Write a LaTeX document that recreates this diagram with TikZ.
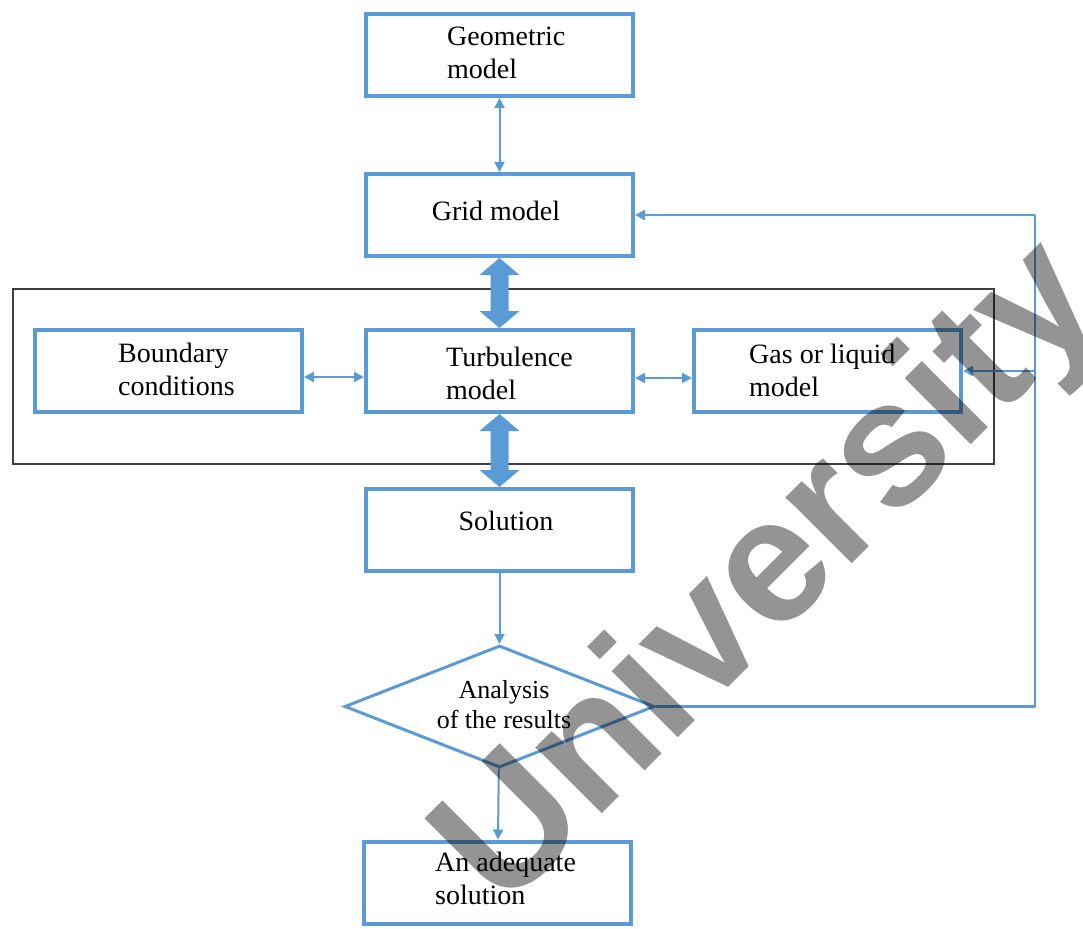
\documentclass[tikz,border=0pt]{standalone}
\usepackage{fontspec}
\setmainfont{Liberation Serif}
\newfontfamily\wmfont{Liberation Sans}
\usetikzlibrary{arrows.meta,shapes.geometric,calc}
\definecolor{blu}{HTML}{5B9BD5}
\definecolor{frm}{HTML}{3F3F3F}
\newcommand\dblblockarrow[2]{%
  \fill[blu] (#1) -- ++(20,17) -- ++(-11,0) -- ($(#2)+(9,-17)$) -- ++(11,0) -- (#2)
    -- ++(-20,-17) -- ++(11,0) -- ($(#1)+(-9,17)$) -- ++(-11,0) -- cycle;}
\begin{document}
\begin{tikzpicture}[x=1pt,y=-1pt,
  box/.style={draw=blu, line width=4pt, minimum width=267pt, minimum height=82pt, inner sep=0pt},
  lbl/.style={font=\fontsize{28}{33}\selectfont, align=left, inner sep=0pt},
  thinarr/.style={draw=blu, line width=2pt, -{Triangle[length=10pt,width=10pt]}},
  dblarr/.style={draw=blu, line width=2pt, {Triangle[length=10pt,width=10pt]}-{Triangle[length=10pt,width=10pt]}},
  fb/.style={draw=blu, line width=2.5pt, line join=round},
]
\useasboundingbox (0,0) rectangle (1083,928);
\fill[white] (0,0) rectangle (1083,928);

% frame
\node[draw=frm, line width=2pt, minimum width=981pt, minimum height=175pt, inner sep=0pt] (frame) at (503.5,376.5) {};

% boxes
\node[box] (geo)  at (499.5,55)  {};
\node[box] (grid) at (499.5,215) {};
\node[box] (bc)   at (168.5,371) {};
\node[box] (tm)   at (499.5,371) {};
\node[box] (gas)  at (827.5,371) {};
\node[box] (sol)  at (499.5,530) {};
\node[box] (adq)  at (497.5,882.5) {};
\node[diamond, draw=blu, line width=3pt, aspect=2.54, minimum width=310pt, minimum height=122pt,
      inner sep=0pt] (dia) at (499.5,706.5) {};

% labels
\node[lbl, anchor=west] (geoT)  at (447,53)  {Geometric\\model};
\node[lbl] (gridT) at (496,211) {Grid model};
\node[lbl, anchor=west] (bcT)   at (118,369) {Boundary\\ conditions};
\node[lbl, anchor=west] (tmT)   at (446,373) {Turbulence\\model};
\node[lbl, anchor=west] (gasT)  at (749,370) {Gas or liquid\\model};
\node[lbl] (solT)  at (506,521) {Solution};
\node[lbl, anchor=west] (adqT)  at (435,878) {An adequate\\solution};
\node[font=\fontsize{26}{30}\selectfont, align=center, inner sep=0pt] (diaT) at (504,705) {Analysis\\of the results};

% connectors
\draw[dblarr] (geo) -- (grid);
\draw[dblarr] ([yshift=-6pt]bc.east) -- ([yshift=-6pt]tm.west);
\draw[dblarr] ([yshift=-7pt]tm.east) -- ([yshift=-7pt]gas.west);
\draw[thinarr] (sol) -- (dia);
\draw[thinarr] (dia) -- (adq);
\dblblockarrow{grid.south}{tm.north}
\dblblockarrow{tm.south}{sol.north}

\coordinate (rail) at (1035,0);
\draw[fb, -{Triangle[length=10pt,width=10pt]}] (dia.east) -- (dia.east -| rail) -- (rail |- grid.east) -- (grid.east);
\draw[fb, -{Triangle[length=10pt,width=10pt]}] (rail |- gas.east) -- (gas.east);

% watermark
\node[font=\wmfont\bfseries\fontsize{177}{177}\selectfont, text=black, text opacity=0.42,
      rotate=45, anchor=base west, inner sep=0pt] (wm) at (503,913) {University};
\end{tikzpicture}
\end{document}
